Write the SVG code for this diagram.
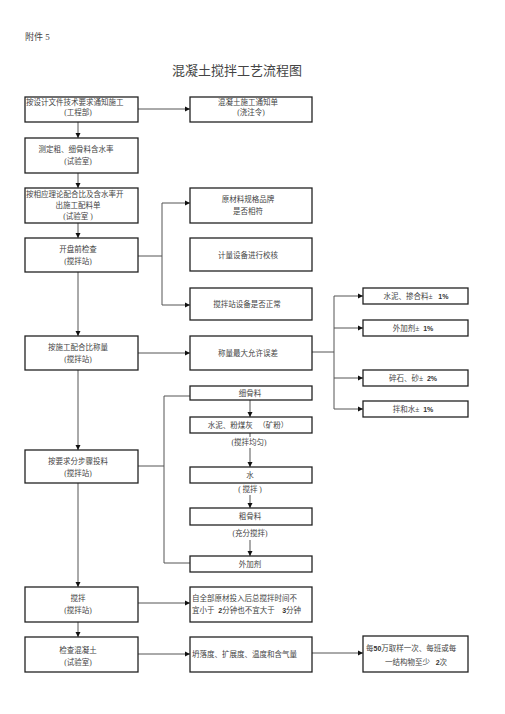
<svg xmlns="http://www.w3.org/2000/svg" width="505" height="714" viewBox="0 0 505 714">
<style>
.b{fill:#fff;stroke:#222;stroke-width:1.3}
.t{font-family:"Liberation Serif","Noto Sans CJK SC",serif;font-size:7.5px;fill:#444;dominant-baseline:central;white-space:pre}
.c{text-anchor:middle}
.n{font-family:"Liberation Sans",sans-serif;font-weight:bold;font-size:7px;fill:#333}
.l{fill:none;stroke:#555;stroke-width:1}
.a{marker-end:url(#ar)}
</style>
<defs>
<marker id="ar" markerWidth="6" markerHeight="6" refX="5" refY="3" orient="auto" markerUnits="userSpaceOnUse">
<path d="M0,0.5 L5,3 L0,5.5 Z" fill="#111"/>
</marker>
</defs>
<rect width="505" height="714" fill="#fff"/>
<text class="t" x="25" y="37" style="font-size:9px">附件 5</text>
<text class="t c" x="237" y="70" style="font-size:13px">混凝土搅拌工艺流程图</text>

<g id="connectors">
<line class="l a" x1="78" y1="122" x2="78" y2="138"/>
<line class="l a" x1="78" y1="173" x2="78" y2="188"/>
<line class="l a" x1="78" y1="223" x2="78" y2="238"/>
<line class="l a" x1="78" y1="272" x2="78" y2="336"/>
<line class="l a" x1="78" y1="370" x2="78" y2="450"/>
<line class="l a" x1="78" y1="483" x2="78" y2="587"/>
<line class="l a" x1="78" y1="622" x2="78" y2="637"/>
<line class="l a" x1="138" y1="109" x2="190" y2="109"/>
<line class="l" x1="138" y1="256" x2="162" y2="256"/>
<line class="l" x1="162" y1="203" x2="162" y2="305"/>
<line class="l a" x1="162" y1="203" x2="190" y2="203"/>
<line class="l a" x1="162" y1="305" x2="190" y2="305"/>
<line class="l a" x1="138" y1="353" x2="190" y2="353"/>
<line class="l" x1="312" y1="352" x2="334" y2="352"/>
<line class="l" x1="334" y1="296" x2="334" y2="409"/>
<line class="l a" x1="334" y1="296" x2="363" y2="296"/>
<line class="l a" x1="334" y1="328" x2="363" y2="328"/>
<line class="l a" x1="334" y1="378" x2="363" y2="378"/>
<line class="l a" x1="334" y1="409" x2="363" y2="409"/>
<line class="l" x1="138" y1="466" x2="164" y2="466"/>
<polyline class="l" points="190,396 164,396 164,563 190,563"/>
<line class="l a" x1="250" y1="400" x2="250" y2="417"/>
<line class="l" x1="250" y1="433" x2="250" y2="437"/>
<line class="l a" x1="250" y1="448" x2="250" y2="467"/>
<line class="l a" x1="250" y1="495" x2="250" y2="508"/>
<line class="l a" x1="250" y1="540" x2="250" y2="556"/>
<line class="l a" x1="138" y1="603" x2="190" y2="603"/>
<line class="l a" x1="138" y1="654" x2="190" y2="654"/>
<line class="l a" x1="312" y1="653" x2="363" y2="653"/>
</g>

<g id="n1"><rect class="b" x="25" y="97" width="113" height="25"/>
<text class="t" x="26" y="102">按设计文件技术要求通知施工</text>
<text class="t c" x="78" y="112">(工程部)</text></g>
<g id="n1r"><rect class="b" x="190" y="97" width="122" height="25"/>
<text class="t c" x="248" y="102">混凝土施工通知单</text>
<text class="t c" x="251" y="112">(浇注令)</text></g>

<g id="n2"><rect class="b" x="25" y="138" width="113" height="35"/>
<text class="t c" x="76" y="149">测定粗、细骨料含水率</text>
<text class="t c" x="78" y="161">(试验室)</text></g>

<g id="n3"><rect class="b" x="25" y="188" width="113" height="35"/>
<text class="t" x="26" y="194">按相应理论配合比及含水率开</text>
<text class="t c" x="78" y="205">出施工配料单</text>
<text class="t c" x="78" y="216">(试验室 )</text></g>

<g id="n4"><rect class="b" x="25" y="238" width="113" height="34"/>
<text class="t c" x="78" y="249">开盘前检查</text>
<text class="t c" x="78" y="261">(搅拌站)</text></g>

<g id="r1"><rect class="b" x="190" y="188" width="122" height="35"/>
<text class="t c" x="248" y="199">原材料规格品牌</text>
<text class="t c" x="248" y="211">是否相符</text></g>
<g id="r2"><rect class="b" x="190" y="238" width="122" height="33"/>
<text class="t c" x="248" y="255">计量设备进行校核</text></g>
<g id="r3"><rect class="b" x="190" y="288" width="122" height="32"/>
<text class="t c" x="247" y="304">搅拌站设备是否正常</text></g>

<g id="e1"><rect class="b" x="363" y="288" width="105" height="16"/>
<text class="t c" x="416" y="296" xml:space="preserve">水泥、掺合料±   <tspan class="n">1%</tspan></text></g>
<g id="e2"><rect class="b" x="363" y="320" width="105" height="16"/>
<text class="t c" x="413" y="328" xml:space="preserve">外加剂±  <tspan class="n">1%</tspan></text></g>
<g id="e3"><rect class="b" x="363" y="370" width="105" height="16"/>
<text class="t c" x="413" y="378" xml:space="preserve">碎石、砂±  <tspan class="n">2%</tspan></text></g>
<g id="e4"><rect class="b" x="363" y="401" width="105" height="16"/>
<text class="t c" x="413" y="409" xml:space="preserve">拌和水±  <tspan class="n">1%</tspan></text></g>

<g id="n5"><rect class="b" x="25" y="336" width="113" height="34"/>
<text class="t c" x="78" y="347">按施工配合比称量</text>
<text class="t c" x="78" y="359">(搅拌站)</text></g>
<g id="n5r"><rect class="b" x="190" y="336" width="122" height="34"/>
<text class="t c" x="248" y="353">称量最大允许误差</text></g>

<g id="s1"><rect class="b" x="190" y="386" width="122" height="14"/>
<text class="t c" x="250" y="393">细骨料</text></g>
<g id="s2"><rect class="b" x="190" y="417" width="122" height="16"/>
<text class="t c" x="248" y="425" xml:space="preserve">水泥、粉煤灰   （矿粉）</text></g>
<text class="t c" x="249" y="442">(搅拌均匀)</text>
<g id="s3"><rect class="b" x="190" y="467" width="122" height="16"/>
<text class="t c" x="250" y="475">水</text></g>
<text class="t c" x="250" y="489" xml:space="preserve">( 搅拌 )</text>
<g id="s4"><rect class="b" x="190" y="508" width="122" height="17"/>
<text class="t c" x="250" y="516">粗骨料</text></g>
<text class="t c" x="250" y="533">(充分搅拌)</text>
<g id="s5"><rect class="b" x="190" y="556" width="122" height="16"/>
<text class="t c" x="250" y="564">外加剂</text></g>

<g id="n6"><rect class="b" x="25" y="450" width="113" height="33"/>
<text class="t c" x="78" y="461">按要求分步骤投料</text>
<text class="t c" x="78" y="473">(搅拌站)</text></g>

<g id="n7"><rect class="b" x="25" y="587" width="113" height="35"/>
<text class="t c" x="78" y="598">搅拌</text>
<text class="t c" x="78" y="610">(搅拌站)</text></g>
<g id="n7r"><rect class="b" x="190" y="587" width="122" height="35"/>
<text class="t" x="192" y="598">自全部原材投入后总搅拌时间不</text>
<text class="t" x="192" y="610" xml:space="preserve">宜小于  <tspan class="n">2</tspan>分钟也不宜大于    <tspan class="n">3</tspan>分钟</text></g>

<g id="n8"><rect class="b" x="25" y="637" width="113" height="35"/>
<text class="t c" x="78" y="650">检查混凝土</text>
<text class="t c" x="78" y="662">(试验室)</text></g>
<g id="n8r"><rect class="b" x="190" y="637" width="122" height="35"/>
<text class="t" x="192" y="654">坍落度、扩展度、温度和含气量</text></g>
<g id="n8rr"><rect class="b" x="363" y="636" width="105" height="36"/>
<text class="t" x="366" y="648">每<tspan class="n">50</tspan>万取样一次、每班或每</text>
<text class="t" x="385" y="662" xml:space="preserve">一结构物至少   <tspan class="n">2</tspan>次</text></g>
</svg>
